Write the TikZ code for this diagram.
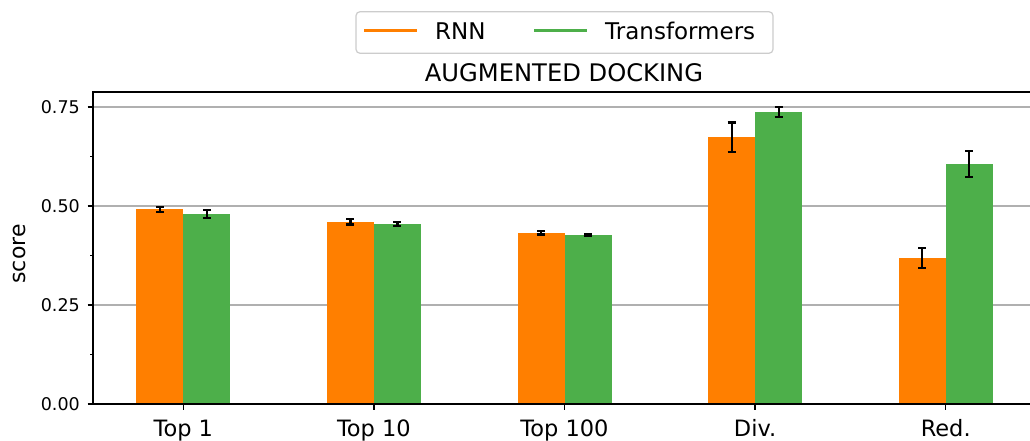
\documentclass[tikz,border=0pt]{standalone}
\usepackage{fontspec}
\setmainfont{DejaVu Sans}
\definecolor{rnn}{HTML}{FF7F00}
\definecolor{trf}{HTML}{4DAF4A}
\definecolor{gridc}{HTML}{B0B0B0}
\definecolor{legc}{HTML}{CCCCCC}
\tikzset{
  gridline/.style={draw=gridc, line width=1.1pt},
  spine/.style={draw=black, line width=1.3pt},
  errbar/.style={draw=black, line width=2.2pt},
  ticklab/.style={font=\fontsize{17.5}{20}\selectfont, anchor=east, inner sep=0pt},
  xlab/.style={font=\fontsize{22.5}{26}\selectfont, anchor=base, inner sep=0pt},
  legtext/.style={font=\fontsize{23}{27}\selectfont, anchor=west, inner sep=0pt},
}
\newcommand{\yv}[1]{404-396*(#1)}
\newcommand{\onebar}[5]{% center x, color, value, err, side(-1 left, 0 right)
  \fill[#2] ({#1+47*#5}, 404) rectangle ({#1+47*#5+47}, {\yv{#3}});
  \draw[errbar] ({#1+47*#5+23.5}, {\yv{#3+#4}}) -- ({#1+47*#5+23.5}, {\yv{#3-#4}});
  \draw[errbar] ({#1+47*#5+19.5}, {\yv{#3+#4}}) -- ({#1+47*#5+27.5}, {\yv{#3+#4}});
  \draw[errbar] ({#1+47*#5+19.5}, {\yv{#3-#4}}) -- ({#1+47*#5+27.5}, {\yv{#3-#4}});
}
\begin{document}
\begin{tikzpicture}[x=1pt, y=-1pt]
\useasboundingbox (0,0) rectangle (1030,441);
% grid
\foreach \v in {0.25,0.5,0.75} {
  \draw[gridline] (93, {\yv{\v}}) -- (1030, {\yv{\v}});
}
% bars
\onebar{183.3}{rnn}{0.4915}{0.0065}{-1}
\onebar{183.3}{trf}{0.480}{0.010}{0}
\onebar{373.9}{rnn}{0.460}{0.0065}{-1}
\onebar{373.9}{trf}{0.455}{0.0045}{0}
\onebar{564.5}{rnn}{0.432}{0.004}{-1}
\onebar{564.5}{trf}{0.427}{0.0025}{0}
\onebar{755.1}{rnn}{0.674}{0.037}{-1}
\onebar{755.1}{trf}{0.737}{0.013}{0}
\onebar{945.7}{rnn}{0.369}{0.025}{-1}
\onebar{945.7}{trf}{0.606}{0.032}{0}
% spines
\draw[spine] (1030,92) -- (93,92) -- (93,404) -- (1030,404);
% y ticks
\foreach \v/\l in {0/0.00,0.25/0.25,0.5/0.50,0.75/0.75} {
  \draw[spine] (87.5, {\yv{\v}}) -- (93, {\yv{\v}});
  \node[ticklab] (yt\l) at (80, {\yv{\v}}) {\l};
}
\foreach \v in {0.125,0.375,0.625} {
  \draw[line width=1pt] (90, {\yv{\v}}) -- (93, {\yv{\v}});
}
% x ticks
\foreach \c/\l/\n in {183.3/Top 1/a,373.9/Top 10/b,564.5/Top 100/c,755.1/Div./d,945.7/Red./e} {
  \draw[spine] (\c,404) -- (\c,409.5);
  \node[xlab] (xt\n) at (\c,436) {\l};
}
% y label
\node[font=\fontsize{22}{26}\selectfont, rotate=90, inner sep=0pt] (ylab) at (19.5,254) {score};
% title
\node[font=\fontsize{24.2}{28}\selectfont, anchor=base, inner sep=0pt] (title) at (564,82) {AUGMENTED DOCKING};
% legend
\draw[legc, line width=1.2pt, rounded corners=4pt, fill=white] (356,11.7) rectangle (773,53.3);
\coordinate (l1a) at (364,31); \coordinate (l1b) at (417,31);
\coordinate (l2a) at (534,31); \coordinate (l2b) at (587,31);
\draw[rnn, line width=3pt] (l1a) -- (l1b);
\draw[trf, line width=3pt] (l2a) -- (l2b);
\node[legtext] (legR) at (435,31) {RNN};
\node[legtext] (legT) at (605,31) {Transformers};
\end{tikzpicture}
\end{document}
